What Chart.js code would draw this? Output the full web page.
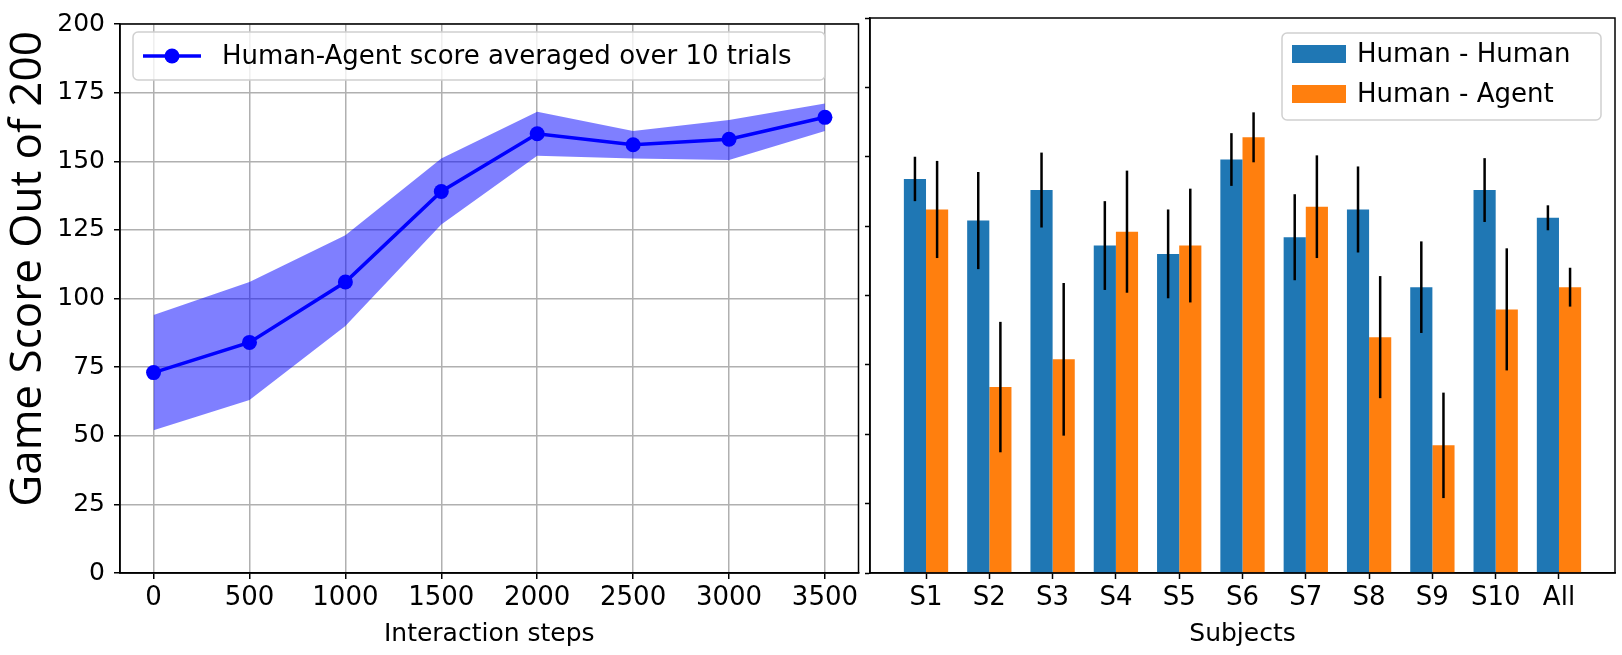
<!DOCTYPE html>
<html>
<head>
<meta charset="utf-8">
<script src="https://cdn.jsdelivr.net/npm/chart.js@4"></script>
<style>
  html, body { margin: 0; padding: 0; background: #fff; }
  #wrap { position: relative; width: 1622px; height: 655px; overflow: hidden; }
  #left { position: absolute; left: 0; top: 0; }
  #right { position: absolute; left: 860px; top: 0; }
</style>
</head>
<body>
<div id="wrap">
  <canvas id="left" width="866" height="655"></canvas>
  <canvas id="right" width="762" height="655"></canvas>
</div>
<script>
// left panel: score vs interaction steps
const steps = [0, 500, 1000, 1500, 2000, 2500, 3000, 3500];
const scoreMean = [73, 84, 106, 139, 160, 156, 158, 166];
const scoreUpper = [94, 106, 123, 151, 168, 161, 165, 171];
const scoreLower = [52, 63, 90, 127, 152, 151, 150.5, 161];

// right panel: per subject scores
const subjects = ["S1", "S2", "S3", "S4", "S5", "S6", "S7", "S8", "S9", "S10", "All"];
const hhMean = [142, 127, 138, 118, 115, 149, 121, 131, 103, 138, 128];
const hhErr = [8, 17.5, 13.5, 16, 16, 9.5, 15.5, 15.5, 16.5, 11.5, 4.5];
const haMean = [131, 67, 77, 123, 118, 157, 132, 85, 46, 95, 103];
const haErr = [17.5, 23.5, 27.5, 22, 20.5, 9, 18.5, 22, 19, 22, 7];

const yTicks = [0, 25, 50, 75, 100, 125, 150, 175, 200];

const xTickFont = { family: "DejaVu Sans", size: 26 };
const yTickFont = { family: "DejaVu Sans", size: 25 };
const titleFont = { family: "DejaVu Sans", size: 25 };
const legendFont = "26px 'DejaVu Sans'";

function roundRect(ctx, x, y, w, h, r) {
  ctx.beginPath();
  ctx.moveTo(x + r, y);
  ctx.arcTo(x + w, y, x + w, y + h, r);
  ctx.arcTo(x + w, y + h, x, y + h, r);
  ctx.arcTo(x, y + h, x, y, r);
  ctx.arcTo(x, y, x + w, y, r);
  ctx.closePath();
}

// frame (top/right spines) + legend box inside the axes
const frameAndLegend = {
  id: "frameAndLegend",
  afterDraw(chart, args, opts) {
    const ctx = chart.ctx;
    const a = chart.chartArea;
    ctx.save();
    ctx.strokeStyle = "#000";
    ctx.lineWidth = 1.5;
    ctx.strokeRect(a.left, a.top, a.right - a.left, a.bottom - a.top);

    const b = opts.box;
    roundRect(ctx, b.x, b.y, b.w, b.h, 5);
    ctx.fillStyle = "rgba(255,255,255,0.8)";
    ctx.fill();
    ctx.strokeStyle = "#d0d0d0";
    ctx.lineWidth = 1.5;
    ctx.stroke();

    ctx.font = legendFont;
    ctx.textBaseline = "middle";
    ctx.fillStyle = "#000";
    opts.items.forEach((it) => {
      const ds = chart.data.datasets[it.dataset];
      if (it.kind === "line") {
        ctx.strokeStyle = ds.borderColor;
        ctx.lineWidth = 3.5;
        ctx.beginPath();
        ctx.moveTo(it.x, it.y);
        ctx.lineTo(it.x + 58, it.y);
        ctx.stroke();
        ctx.fillStyle = ds.borderColor;
        ctx.beginPath();
        ctx.arc(it.x + 29, it.y, 7.5, 0, Math.PI * 2);
        ctx.fill();
        ctx.fillStyle = "#000";
        ctx.fillText(ds.label, it.x + 79, it.y + 1);
      } else {
        ctx.fillStyle = ds.backgroundColor;
        ctx.fillRect(it.x, it.y - 9, 54, 18);
        ctx.fillStyle = "#000";
        ctx.fillText(ds.label, it.x + 65, it.y + 1);
      }
    });
    ctx.restore();
  },
};

// big rotated y title, sits a bit above the axis centre like the original
const sideTitle = {
  id: "sideTitle",
  afterDraw(chart, args, opts) {
    const ctx = chart.ctx;
    ctx.save();
    ctx.translate(opts.x, opts.y);
    ctx.rotate(-Math.PI / 2);
    ctx.font = opts.font;
    ctx.fillStyle = "#000";
    ctx.textAlign = "center";
    ctx.textBaseline = "alphabetic";
    ctx.fillText(opts.text, 0, 0);
    ctx.restore();
  },
};

// vertical error bars on the grouped bars
const errorBars = {
  id: "errorBars",
  afterDatasetsDraw(chart) {
    const ctx = chart.ctx;
    const y = chart.scales.y;
    ctx.save();
    ctx.strokeStyle = "#000";
    ctx.lineWidth = 2.5;
    chart.data.datasets.forEach((ds, di) => {
      chart.getDatasetMeta(di).data.forEach((bar, i) => {
        const v = ds.data[i].y;
        const e = ds.errors[i];
        ctx.beginPath();
        ctx.moveTo(bar.x, y.getPixelForValue(v + e));
        ctx.lineTo(bar.x, y.getPixelForValue(v - e));
        ctx.stroke();
      });
    });
    ctx.restore();
  },
};

const pts = (xs, ys) => xs.map((x, i) => ({ x: x, y: ys[i] }));

new Chart(document.getElementById("left"), {
  type: "line",
  data: {
    datasets: [
      {
        label: "upper",
        data: pts(steps, scoreUpper),
        fill: "+1",
        backgroundColor: "rgba(0,0,255,0.5)",
        borderWidth: 0,
        pointRadius: 0,
      },
      {
        label: "lower",
        data: pts(steps, scoreLower),
        fill: false,
        borderWidth: 0,
        pointRadius: 0,
      },
      {
        label: "Human-Agent score averaged over 10 trials",
        data: pts(steps, scoreMean),
        fill: false,
        borderColor: "#0000ff",
        backgroundColor: "#0000ff",
        borderWidth: 3.5,
        pointRadius: 7.5,
        pointBorderWidth: 0,
      },
    ],
  },
  options: {
    responsive: false,
    animation: false,
    layout: { padding: { top: 19, right: 2, left: 0, bottom: 0 } },
    plugins: {
      legend: { display: false },
      tooltip: { enabled: false },
      frameAndLegend: {
        box: { x: 133, y: 32, w: 692, h: 48 },
        items: [{ dataset: 2, kind: "line", x: 143, y: 56 }],
      },
      sideTitle: { text: "Game Score Out of 200", font: "44px 'Open Sans'", x: 41, y: 269 },
    },
    scales: {
      x: {
        type: "linear",
        min: -175,
        max: 3675,
        afterBuildTicks: (s) => { s.ticks = steps.map((v) => ({ value: v })); },
        afterFit: (s) => { s.height = 82; },
        grid: { color: "#b0b0b0", lineWidth: 1.5, tickColor: "#000", tickWidth: 1.5, tickLength: 6 },
        border: { color: "#000", width: 1.5 },
        ticks: {
          font: xTickFont,
          color: "#000",
          padding: 4,
          maxRotation: 0,
          autoSkip: false,
          callback: (v) => String(v),
        },
        title: { display: true, text: "Interaction steps", font: titleFont, color: "#000", padding: { top: 0, bottom: 6 } },
      },
      y: {
        min: 0,
        max: 200,
        afterBuildTicks: (s) => { s.ticks = yTicks.map((v) => ({ value: v })); },
        afterFit: (s) => { s.width = 120; },
        grid: { color: "#b0b0b0", lineWidth: 1.5, tickColor: "#000", tickWidth: 1.5, tickLength: 6 },
        border: { color: "#000", width: 1.5 },
        ticks: { font: yTickFont, color: "#000", padding: 9 },
      },
    },
  },
  plugins: [frameAndLegend, sideTitle],
});

new Chart(document.getElementById("right"), {
  type: "bar",
  data: {
    datasets: [
      {
        label: "Human - Human",
        data: pts(subjects.map((s, i) => i), hhMean),
        errors: hhErr,
        backgroundColor: "#1f77b4",
      },
      {
        label: "Human - Agent",
        data: pts(subjects.map((s, i) => i), haMean),
        errors: haErr,
        backgroundColor: "#ff7f0e",
      },
    ],
  },
  options: {
    responsive: false,
    animation: false,
    categoryPercentage: 0.7,
    barPercentage: 1.0,
    layout: { padding: { top: 18, right: 7, left: 0, bottom: 0 } },
    plugins: {
      legend: { display: false },
      tooltip: { enabled: false },
      frameAndLegend: {
        box: { x: 422, y: 33, w: 319, h: 87 },
        items: [
          { dataset: 0, kind: "box", x: 432, y: 54 },
          { dataset: 1, kind: "box", x: 432, y: 94 },
        ],
      },
    },
    scales: {
      x: {
        type: "linear",
        offset: false,
        min: -0.885,
        max: 10.885,
        afterBuildTicks: (s) => { s.ticks = subjects.map((n, i) => ({ value: i })); },
        afterFit: (s) => { s.height = 82; },
        grid: { drawOnChartArea: false, offset: false, tickColor: "#000", tickWidth: 1.5, tickLength: 6 },
        border: { color: "#000", width: 1.5 },
        ticks: {
          font: xTickFont,
          color: "#000",
          padding: 4,
          maxRotation: 0,
          autoSkip: false,
          callback: (v) => subjects[v],
        },
        title: { display: true, text: "Subjects", font: titleFont, color: "#000", padding: { top: 0, bottom: 6 } },
      },
      y: {
        min: 0,
        max: 200,
        afterBuildTicks: (s) => { s.ticks = yTicks.map((v) => ({ value: v })); },
        afterFit: (s) => { s.width = 10; },
        grid: { drawOnChartArea: false, tickColor: "#000", tickWidth: 1.5, tickLength: 5 },
        border: { color: "#000", width: 1.5 },
        ticks: { display: false },
      },
    },
  },
  plugins: [errorBars, frameAndLegend],
});
</script>
</body>
</html>
